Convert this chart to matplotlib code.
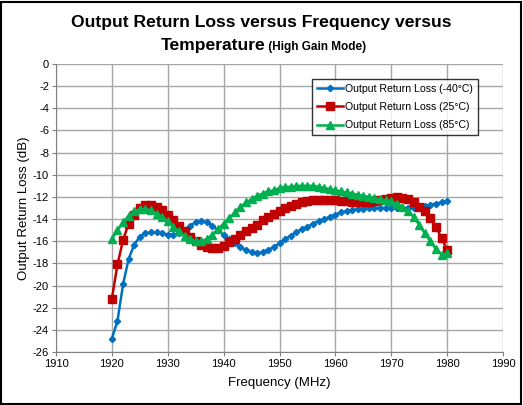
import matplotlib
matplotlib.use("Agg")
import matplotlib.pyplot as plt
from matplotlib.patches import Rectangle
import numpy as np

plt.rcParams['font.family'] = ['Liberation Sans', 'DejaVu Sans']
plt.rcParams['axes.unicode_minus'] = False

freq = list(range(1920, 1981))
rl_m40 = [-24.8, -23.2, -19.9, -17.6, -16.3, -15.6, -15.3, -15.2, -15.2, -15.3,
          -15.4, -15.4, -15.3, -15.0, -14.6, -14.3, -14.2, -14.3, -14.6, -15.0,
          -15.4, -15.8, -16.2, -16.5, -16.8, -17.0, -17.1, -17.0, -16.8, -16.5,
          -16.2, -15.8, -15.5, -15.2, -14.9, -14.7, -14.4, -14.2, -14.0, -13.8,
          -13.6, -13.4, -13.3, -13.2, -13.1, -13.1, -13.0, -13.0, -13.0, -13.0,
          -13.0, -13.0, -13.0, -13.0, -13.0, -12.9, -12.8, -12.7, -12.6, -12.5,
          -12.4]
rl_25 = [-21.2, -18.1, -15.9, -14.4, -13.6, -13.0, -12.7, -12.7, -12.9, -13.2,
         -13.6, -14.1, -14.6, -15.1, -15.6, -16.0, -16.3, -16.5, -16.6, -16.6,
         -16.4, -16.1, -15.8, -15.4, -15.1, -14.8, -14.5, -14.1, -13.8, -13.5,
         -13.3, -13.0, -12.8, -12.6, -12.5, -12.4, -12.3, -12.3, -12.3, -12.3,
         -12.3, -12.4, -12.4, -12.5, -12.5, -12.5, -12.5, -12.4, -12.3, -12.2,
         -12.1, -12.0, -12.1, -12.2, -12.5, -12.9, -13.3, -13.9, -14.7, -15.7,
         -16.8]
rl_85 = [-15.8, -15.0, -14.3, -13.7, -13.3, -13.1, -13.1, -13.2, -13.5, -13.8,
         -14.2, -14.7, -15.1, -15.5, -15.8, -16.0, -16.0, -15.8, -15.4, -14.9,
         -14.4, -13.9, -13.4, -12.9, -12.5, -12.2, -11.9, -11.7, -11.5, -11.4,
         -11.2, -11.1, -11.1, -11.0, -11.0, -11.0, -11.0, -11.1, -11.2, -11.3,
         -11.4, -11.5, -11.6, -11.7, -11.8, -11.9, -12.0, -12.1, -12.2, -12.3,
         -12.4, -12.6, -12.9, -13.3, -13.8, -14.5, -15.3, -16.0, -16.7, -17.2,
         -17.1]
labels = ['Output Return Loss (-40°C)', 'Output Return Loss (25°C)', 'Output Return Loss (85°C)']
xticks = list(range(1910, 1991, 10))
yticks = list(range(-26, 1, 2))

W, H = 523, 405
fig = plt.figure(figsize=(W / 100, H / 100), dpi=100)
ax = fig.add_axes([56 / W, 1 - 352 / H, (503 - 56) / W, (352 - 64) / H])

ax.plot(freq, rl_m40, color='#0070C0', lw=1.8, marker='D', ms=3.2, label=labels[0])
ax.plot(freq, rl_25, color='#C00000', lw=1.8, marker='s', ms=5.5, label=labels[1])
ax.plot(freq, rl_85, color='#00B050', lw=1.8, marker='^', ms=6, label=labels[2])

ax.set_xlim(1910, 1990)
ax.set_ylim(-26, 0)
ax.set_xticks(xticks)
ax.set_yticks(yticks)
ax.tick_params(labelsize=8, length=3, color='#808080', direction='out', pad=2)
ax.grid(True, color='#a6a6a6', lw=1)
ax.set_axisbelow(True)
for s in ['top', 'right']:
    ax.spines[s].set_visible(False)
for s in ['left', 'bottom']:
    ax.spines[s].set_color('#808080')
ax.set_xlabel('Frequency (MHz)', fontsize=9.5, labelpad=6)
ax.set_ylabel('Output Return Loss (dB)', fontsize=9.5, labelpad=2)

leg = ax.legend(loc='upper left', bbox_to_anchor=((312 - 56) / (503 - 56), 1 - (79 - 64) / (352 - 64)),
                fontsize=7.6, frameon=True, fancybox=False, edgecolor='black',
                handlelength=2.5, handletextpad=0.2, borderpad=0.45, labelspacing=0.78,
                borderaxespad=0)
leg.get_frame().set_linewidth(1.0)

fig.text(0.5, 1 - 22 / H, 'Output Return Loss versus Frequency versus',
         ha='center', va='center', fontsize=12.6, fontweight='bold')
t1 = fig.text(0, 1 - 46 / H, 'Temperature', ha='left', va='baseline', fontsize=12.6, fontweight='bold')
t2 = fig.text(0, 1 - 46 / H, ' (High Gain Mode)', ha='left', va='baseline', fontsize=8.5, fontweight='bold')
fig.canvas.draw()
r = fig.canvas.get_renderer()
w1 = t1.get_window_extent(r).width
w2 = t2.get_window_extent(r).width
x0 = (W - (w1 + w2)) / 2 + 2
t1.set_x(x0 / W)
t2.set_x((x0 + w1) / W)
t1.set_y(1 - 50 / H)
t2.set_y(1 - 50 / H)

fig.patches.append(Rectangle((0.002, 0.002), 0.994, 0.994, transform=fig.transFigure,
                             fill=False, edgecolor='black', lw=1.5))
fig.savefig('out.png', dpi=100)
